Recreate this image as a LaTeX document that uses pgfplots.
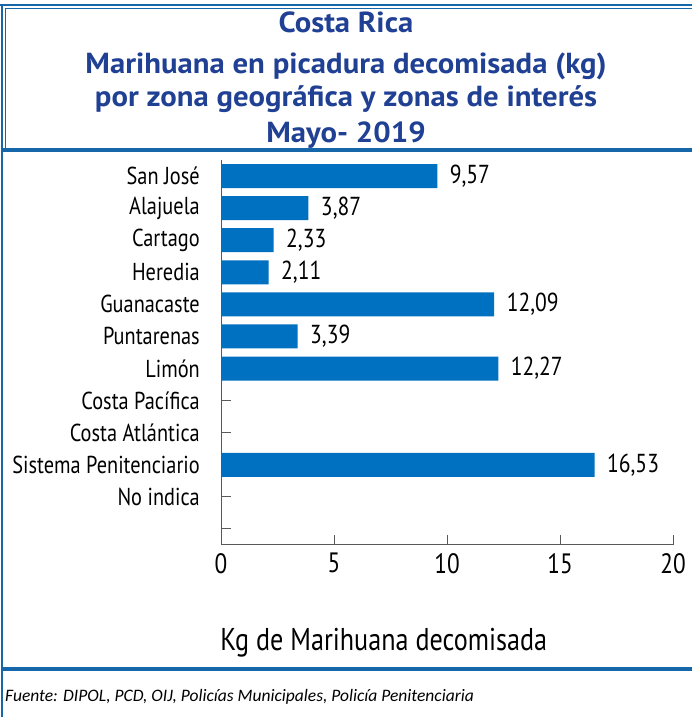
\documentclass[border=0pt]{standalone}
\usepackage{fontspec}
\setmainfont{PT Sans}
\newfontfamily\cond{PT Sans}[FakeStretch=0.83]
\newfontfamily\titlef{PT Sans}[FakeStretch=1.06]
\newfontfamily\foot{Carlito}
\usepackage{pgfplots}
\pgfplotsset{compat=1.18}
\definecolor{barblue}{RGB}{0,112,192}
\definecolor{frameblue}{RGB}{22,102,170}
\definecolor{titleblue}{RGB}{32,64,148}
\begin{document}
\begin{tikzpicture}[x=1pt,y=1pt]
\path[use as bounding box] (0,0) rectangle (692,717);
% frame (py -> 717-py)
\draw[frameblue, line width=2pt] (0,712) -- (692,712);
\draw[frameblue, line width=1pt] (5,708.5) -- (692,708.5);
\draw[frameblue, line width=2.5pt] (2,713) -- (2,0);
\draw[frameblue, line width=1pt] (5,708.5) -- (5,567);
\draw[frameblue, line width=4pt] (2,567) -- (692,567);
\draw[frameblue, line width=4pt] (2,47.5) -- (692,47.5);
% title
\tikzset{tl/.style={anchor=base, inner sep=0pt, font=\titlef\bfseries\fontsize{29}{29}\selectfont, text=titleblue}}
\node[tl] at (346,717-33) {Costa Rica};
\node[tl] at (346,717-74) {Marihuana en picadura decomisada (kg)};
\node[tl] at (346,717-107) {por zona geográfica y zonas de interés};
\node[tl] at (346,717-143) {Mayo- 2019};
% footnote
\node[anchor=base west, inner sep=0pt, font=\foot\itshape\fontsize{17.5}{17.5}\selectfont] at (5,717-701) {Fuente: DIPOL, PCD, OIJ, Policías Municipales, Policía Penitenciaria};
\begin{axis}[
  at={(221pt,172pt)}, anchor=south west, scale only axis,
  width=452pt, height=385pt,
  xmin=0, xmax=20, ymin=-0.5, ymax=11.5,
  xbar, bar width=24pt,
  axis x line*=bottom, axis y line*=left,
  ytick={0,...,11},
  yticklabels={{},No indica,Sistema Penitenciario,Costa Atlántica,Costa Pacífica,Limón,Puntarenas,Guanacaste,Heredia,Cartago,Alajuela,San José},
  xtick={0,5,10,15,20},
  tick align=inside, major tick length=10pt,
  axis line style={black!65, line width=1pt, -},
  tick style={black!65, line width=1pt},
  yticklabel style={font=\cond\fontsize{24.5}{24.5}\selectfont, inner sep=0pt, anchor=east, xshift=-21pt},
  xticklabel style={font=\cond\fontsize{28}{28}\selectfont, inner sep=0pt, anchor=north, yshift=-8pt},
  /pgf/number format/assume math mode=true,
  nodes near coords,
  point meta=x,
  every node near coord/.append style={font=\cond\fontsize{26}{26}\selectfont, text=black, xshift=9pt, /pgf/number format/.cd, use comma, fixed, fixed zerofill, precision=2},
  xlabel={Kg de Marihuana decomisada},
  xlabel style={font=\cond\fontsize{31.5}{31.5}\selectfont, at={(axis description cs:0.36,0)}, anchor=base, yshift=-105pt},
  clip=false,
]
\addplot[fill=barblue, draw=none] coordinates {(9.57,11) (3.87,10) (2.33,9) (2.11,8) (12.09,7) (3.39,6) (12.27,5) (16.53,2)};
\end{axis}
\end{tikzpicture}
\end{document}
